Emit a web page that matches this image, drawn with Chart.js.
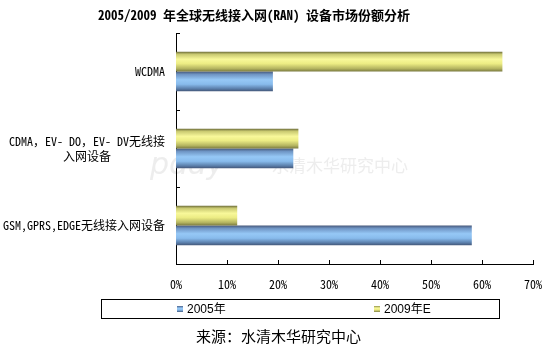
<!DOCTYPE html>
<html>
<head>
<meta charset="utf-8">
<script src="https://cdn.jsdelivr.net/npm/chart.js@4.4.0/dist/chart.umd.min.js"></script>
<style>
  html, body { margin: 0; padding: 0; background: #fff; }
  #wrap { width: 545px; height: 348px; position: relative; }
</style>
</head>
<body>
<div id="wrap"><canvas id="c" width="545" height="348"></canvas></div>
<script>
// ---- data ----
const categories = ['WCDMA', ['CDMA，EV- DO，EV- DV无线接', '入网设备'], 'GSM,GPRS,EDGE无线接入网设备'];
const values2005 = [19, 23, 58];
const values2009E = [64, 24, 12];
const seriesNames = ['2005年', '2009年E'];
const xTicks = [0, 10, 20, 30, 40, 50, 60, 70];
const titleText = '2005/2009 年全球无线接入网(RAN) 设备市场份额分析';
const sourceText = '来源：水清木华研究中心';

const MONO = '"Noto Sans Mono CJK SC", "Noto Sans CJK SC", "DejaVu Sans Mono", monospace';
const SANS = '"Liberation Sans", Arial, "Noto Sans CJK SC", sans-serif';

function yellowGrad(ctx, top, bottom) {
  const g = ctx.createLinearGradient(0, top, 0, bottom);
  g.addColorStop(0, '#6e6e3a');
  g.addColorStop(0.12, '#c8c870');
  g.addColorStop(0.38, '#f8f89a');
  g.addColorStop(0.6, '#ecec84');
  g.addColorStop(0.85, '#b4b460');
  g.addColorStop(1, '#7a7a40');
  return g;
}
function blueGrad(ctx, top, bottom) {
  const g = ctx.createLinearGradient(0, top, 0, bottom);
  g.addColorStop(0, '#46587a');
  g.addColorStop(0.15, '#6f95c4');
  g.addColorStop(0.42, '#96c8f6');
  g.addColorStop(0.65, '#88bbec');
  g.addColorStop(0.88, '#5a7eaa');
  g.addColorStop(1, '#44587a');
  return g;
}

const gradientPlugin = {
  id: 'gradients',
  beforeDatasetsDraw(chart) {
    const ctx = chart.ctx;
    chart.data.datasets.forEach((ds, di) => {
      const meta = chart.getDatasetMeta(di);
      meta.data.forEach(el => {
        const top = el.y - el.height / 2, bottom = el.y + el.height / 2;
        const g = ds.gradType === 'yellow' ? yellowGrad(ctx, top, bottom) : blueGrad(ctx, top, bottom);
        el.options = Object.assign({}, el.options, { backgroundColor: g });
      });
    });
  }
};

const decorPlugin = {
  id: 'decor',
  beforeDraw(chart) {
    const ctx = chart.ctx;
    ctx.save();
    ctx.fillStyle = '#fff';
    ctx.fillRect(0, 0, chart.width, chart.height);
    // faint watermark
    ctx.fillStyle = 'rgba(232,232,232,0.8)';
    ctx.font = 'italic 30px "DejaVu Sans", sans-serif';
    ctx.textBaseline = 'middle';
    ctx.fillText('pday', 150, 166);
    ctx.font = '17px "Noto Sans CJK SC", sans-serif';
    ctx.fillText('水清木华研究中心', 272, 166);
    ctx.restore();
  },
  afterDraw(chart) {
    const ctx = chart.ctx;
    const xs = chart.scales.x, ys = chart.scales.y;
    const area = chart.chartArea;
    ctx.save();
    // title
    ctx.fillStyle = '#000';
    ctx.font = 'bold 13px ' + MONO;
    ctx.textAlign = 'center';
    ctx.textBaseline = 'middle';
    ctx.fillText(titleText, 254, 15);
    // inside tick marks on x axis
    ctx.strokeStyle = '#000';
    ctx.lineWidth = 1;
    xTicks.forEach(v => {
      const px = Math.round(xs.getPixelForValue(v)) + 0.5;
      ctx.beginPath();
      ctx.moveTo(px, Math.round(area.bottom));
      ctx.lineTo(px, Math.round(area.bottom) - 4);
      ctx.stroke();
    });
    // inside tick marks on y axis (category boundaries)
    const n = chart.data.labels.length;
    for (let i = 0; i <= n; i++) {
      const py = Math.round(area.top + (area.bottom - area.top) * i / n) + 0.5;
      ctx.beginPath();
      ctx.moveTo(Math.round(area.left), py);
      ctx.lineTo(Math.round(area.left) + 4, py);
      ctx.stroke();
    }
    // category labels
    ctx.font = '12px ' + MONO;
    ctx.fillStyle = '#000';
    ctx.textBaseline = 'middle';
    const rightX = 165;
    chart.data.labels.forEach((lab, i) => {
      const cy = ys.getPixelForValue(i);
      const lines = Array.isArray(lab) ? lab : [lab];
      const w0 = ctx.measureText(lines[0]).width;
      const cx = rightX - w0 / 2;
      const lh = 15;
      const startY = cy - (lines.length - 1) * lh / 2;
      ctx.textAlign = 'center';
      lines.forEach((ln, k) => ctx.fillText(ln, cx, startY + k * lh));
    });
    // legend box
    ctx.strokeStyle = '#000';
    ctx.lineWidth = 1;
    ctx.strokeRect(101.5, 299.5, 398, 19);
    const items = [
      { name: seriesNames[0], x: 177, grad: blueGrad },
      { name: seriesNames[1], x: 374, grad: yellowGrad }
    ];
    items.forEach(it => {
      ctx.fillStyle = it.grad(ctx, 306, 312);
      ctx.fillRect(it.x, 306, 6, 6);
      ctx.fillStyle = '#000';
      ctx.font = '12px ' + SANS;
      ctx.textAlign = 'left';
      ctx.textBaseline = 'middle';
      ctx.fillText(it.name, it.x + 10, 309.5);
    });
    // source
    ctx.font = '15px "Noto Sans CJK SC", sans-serif';
    ctx.textAlign = 'left';
    ctx.textBaseline = 'middle';
    ctx.fillText(sourceText, 196, 336);
    ctx.restore();
  }
};

new Chart(document.getElementById('c'), {
  type: 'bar',
  data: {
    labels: categories,
    datasets: [
      { label: seriesNames[1], data: values2009E, gradType: 'yellow', backgroundColor: '#e8e880', borderWidth: 0,
        categoryPercentage: 0.51, barPercentage: 1.0 },
      { label: seriesNames[0], data: values2005, gradType: 'blue', backgroundColor: '#88bbec', borderWidth: 0,
        categoryPercentage: 0.51, barPercentage: 1.0 }
    ]
  },
  options: {
    indexAxis: 'y',
    responsive: false,
    animation: false,
    devicePixelRatio: 1,
    layout: { padding: { left: 176, top: 33, right: 12, bottom: 54 } },
    plugins: {
      legend: { display: false },
      title: { display: false },
      tooltip: { enabled: false }
    },
    scales: {
      x: {
        min: 0, max: 70,
        afterBuildTicks(s) { s.ticks = xTicks.map(v => ({ value: v })); },
        afterFit(s) { s.height = 30; s.paddingLeft = 0; s.paddingRight = 0; },
        grid: { display: false, drawTicks: false },
        border: { display: true, color: '#000', width: 1 },
        ticks: {
          padding: 13,
          color: '#000',
          font: { family: MONO, size: 12 },
          callback: v => v + '%'
        }
      },
      y: {
        afterFit(s) { s.width = 0; s.paddingTop = 0; s.paddingBottom = 0; },
        grid: { display: false, drawTicks: false },
        border: { display: true, color: '#000', width: 1 },
        ticks: { display: false }
      }
    }
  },
  plugins: [decorPlugin, gradientPlugin]
});
</script>
</body>
</html>
